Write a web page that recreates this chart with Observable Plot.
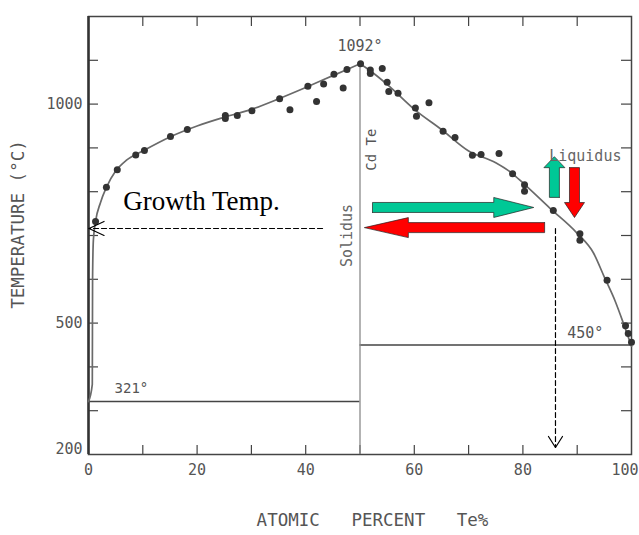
<!DOCTYPE html>
<html>
<head>
<meta charset="utf-8">
<script src="https://cdn.jsdelivr.net/npm/d3@7"></script>
<script src="https://cdn.jsdelivr.net/npm/@observablehq/plot@0.6"></script>
<style>
  html, body { margin: 0; padding: 0; background: #fff; }
  #chart svg { display: block; }
</style>
</head>
<body>
<div id="chart"></div>
<script>
// ---- data ----
const dotX = [1.3, 3.3, 5.3, 8.7, 10.3, 15.1, 18.2, 25.2, 25.2, 27.4, 30.1, 35.2, 37.1, 40.4, 42.0, 43.3, 45.2, 46.9, 47.6, 50.1,
              51.9, 51.9, 54.1, 55.0, 55.3, 57.0, 60.2, 60.4, 62.7, 65.3, 67.5, 70.7, 72.3, 75.6, 78.1, 80.3, 80.3, 85.6, 90.5, 90.5,
              95.5, 98.9, 99.4, 100.0];
const dotT = [732, 810, 850, 884, 894, 926, 942, 974, 967, 974, 985, 1012, 987, 1041, 1006, 1046, 1068, 1037, 1079, 1092,
              1078, 1070, 1081, 1050, 1029, 1025, 991, 972, 1003, 938, 924, 883, 885, 887, 841, 816, 801, 757, 704, 689,
              598, 494, 476, 456];

const leftCurveX = [0, 0.7, 0.75, 0.9, 1.3, 2.2, 3.3, 5, 7, 10, 15, 20, 25, 30, 35, 40, 45, 50];
const leftCurveT = [321, 360, 600, 690, 732, 775, 810, 847, 872, 893, 925, 950, 970, 988, 1012, 1038, 1065, 1092];
const rightCurveX = [50, 52, 55, 60, 65, 70, 75, 78, 80, 85, 90, 93, 95, 97, 98.5, 100];
const rightCurveT = [1092, 1075, 1045, 988, 942, 893, 866, 842, 820, 762, 705, 660, 605, 550, 500, 447];

const eutecticCd = 321, eutecticTe = 450, meltCdTe = 1092, cdteX = 50;
const xTickLabels = [0, 20, 40, 60, 80];
const xLastLabel = [100];
const xMinorTicks = [10, 20, 30, 40, 50, 60, 70, 80, 90];
const yTickLabels = [500, 1000];
const yBottomLabel = [200];
const yMinorTicks = [300, 400, 500, 600, 700, 800, 900, 1000, 1100];
const growthT = 716, growthX = 86.0, dashStartX = 43.1, dashEndT = 216;

// block arrows: tail -> tip in data units, widths in px
const blockArrows = [
  {x1: 52.3, y1: 764, x2: 82.0, y2: 764, half: 5, head: 10, headLen: 40, fill: "#00c896"},
  {x1: 84.0, y1: 718, x2: 50.8, y2: 718, half: 5, head: 10, headLen: 44, fill: "#ff0000"},
  {x1: 85.8, y1: 787, x2: 85.8, y2: 880, half: 5, head: 10.5, headLen: 11, fill: "#00c896"},
  {x1: 89.5, y1: 855, x2: 89.5, y2: 741, half: 5, head: 10, headLen: 15, fill: "#ff0000"}
];

// ---- layout ----
const W = 639, H = 535, mL = 88, mR = 8, mT = 16, mB = 81;
const plotW = W - mL - mR, plotH = H - mT - mB;
const xDom = [0, 100], yDom = [200, 1200];
const kx = plotW / (xDom[1] - xDom[0]);   // px per unit x
const ky = plotH / (yDom[1] - yDom[0]);   // px per degree

function arrowPolygon(a) {
  const X1 = a.x1 * kx, Y1 = -a.y1 * ky, X2 = a.x2 * kx, Y2 = -a.y2 * ky;
  const dx = X2 - X1, dy = Y2 - Y1, L = Math.hypot(dx, dy);
  const ux = dx / L, uy = dy / L, nx = -uy, ny = ux;
  const bx = X2 - ux * a.headLen, by = Y2 - uy * a.headLen;
  const pts = [
    [X1 + nx * a.half, Y1 + ny * a.half],
    [bx + nx * a.half, by + ny * a.half],
    [bx + nx * a.head, by + ny * a.head],
    [X2, Y2],
    [bx - nx * a.head, by - ny * a.head],
    [bx - nx * a.half, by - ny * a.half],
    [X1 - nx * a.half, Y1 - ny * a.half],
    [X1 + nx * a.half, Y1 + ny * a.half]
  ];
  return pts.map(([px, py]) => ({x: px / kx, y: -py / ky}));
}
function openHead(tipX, tipY, dirX, dirY, len, half) {
  const TX = tipX * kx, TY = -tipY * ky;
  const nx = -dirY, ny = dirX;
  const bx = TX - dirX * len, by = TY - dirY * len;
  return [[bx + nx * half, by + ny * half], [TX, TY], [bx - nx * half, by - ny * half]]
    .map(([px, py]) => ({x: px / kx, y: -py / ky}));
}

const dots = dotX.map((x, i) => ({x, t: dotT[i]}));
const curve = [
  ...leftCurveX.map((x, i) => ({x, t: leftCurveT[i], b: "L"})),
  ...rightCurveX.map((x, i) => ({x, t: rightCurveT[i], b: "R"}))
];

const mono = "DejaVu Sans Mono, monospace";
const grey = "#555";

const marks = [
  Plot.tickX(xMinorTicks, {x: d => d, insetTop: plotH - 9, stroke: "#444", strokeWidth: 1.2}),
  Plot.tickX(xMinorTicks, {x: d => d, insetBottom: plotH - 10, stroke: "#444", strokeWidth: 1.2}),
  Plot.tickY(yMinorTicks, {y: d => d, insetRight: plotW - 10, stroke: "#444", strokeWidth: 1.2}),
  Plot.tickY(yMinorTicks, {y: d => d, insetLeft: plotW - 10, stroke: "#444", strokeWidth: 1.2}),
  Plot.frame({stroke: "#444", strokeWidth: 1.5}),
  Plot.ruleX([0], {stroke: "#333", strokeWidth: 2.5}),
  Plot.ruleY([eutecticCd], {x1: 0, x2: cdteX, stroke: "#444", strokeWidth: 1.5}),
  Plot.ruleY([eutecticTe], {x1: cdteX, x2: 100, stroke: "#444", strokeWidth: 1.5}),
  Plot.ruleX([cdteX], {y1: 200, y2: meltCdTe, stroke: "#8a8a8a", strokeWidth: 1.3}),
  Plot.line(curve, {x: "x", y: "t", z: "b", curve: "monotone-x", stroke: "#6a6a6a", strokeWidth: 1.7}),
  Plot.dot(dots, {x: "x", y: "t", r: 3.5, fill: "#333", stroke: "none"}),
  Plot.line([{x: dashStartX, y: growthT}, {x: 0.1, y: growthT}], {x: "x", y: "y", stroke: "#000", strokeWidth: 1.2, strokeDasharray: "5,3"}),
  Plot.line(openHead(0.1, growthT, -1, 0, 15, 7), {x: "x", y: "y", stroke: "#000", strokeWidth: 1.2}),
  Plot.line([{x: growthX, y: growthT}, {x: growthX, y: dashEndT}], {x: "x", y: "y", stroke: "#000", strokeWidth: 1.2, strokeDasharray: "5,3"}),
  Plot.line(openHead(growthX, dashEndT, 0, 1, 11, 7), {x: "x", y: "y", stroke: "#000", strokeWidth: 1.2}),
  ...blockArrows.map(a => Plot.line(arrowPolygon(a), {x: "x", y: "y", fill: a.fill, stroke: "#222", strokeWidth: 0.7, curve: "linear"})),
  Plot.text(["Growth Temp."], {x: 6.4, y: growthT, dy: -27, text: d => d, textAnchor: "start", fontFamily: "Liberation Serif, Times New Roman, serif", fontSize: 27, fill: "#000"}),
  Plot.text(["Liquidus"], {x: 91.5, y: 880, text: d => d, fontFamily: mono, fontSize: 15, fill: "#666"}),
  Plot.text(["1092°"], {x: cdteX, y: meltCdTe, dy: -18, text: d => d, fontFamily: mono, fontSize: 15, fill: grey}),
  Plot.text(["321°"], {x: 7.9, y: eutecticCd, dy: -13, text: d => d, fontFamily: mono, fontSize: 14, fill: grey}),
  Plot.text(["450°"], {x: 91.5, y: eutecticTe, dy: -12, text: d => d, fontFamily: mono, fontSize: 15, fill: grey}),
  Plot.text(["Cd Te"], {x: cdteX, y: 896, dx: 12, rotate: -90, text: d => d, fontFamily: mono, fontSize: 14, fill: grey}),
  Plot.text(["Solidus"], {x: cdteX, y: 700, dx: -13, rotate: -90, text: d => d, fontFamily: mono, fontSize: 15, fill: "#666"}),
  Plot.text(xTickLabels, {x: d => d, y: 200, dy: 16, text: d => String(d), fontFamily: mono, fontSize: 15, fill: grey}),
  Plot.text(xLastLabel, {x: d => d, y: 200, dy: 16, dx: 7, textAnchor: "end", text: d => String(d), fontFamily: mono, fontSize: 15, fill: grey}),
  Plot.text(yTickLabels, {x: 0, y: d => d, dx: -6, textAnchor: "end", text: d => String(d), fontFamily: mono, fontSize: 15, fill: grey}),
  Plot.text(yBottomLabel, {x: 0, y: d => d, dx: -6, dy: -5, textAnchor: "end", text: d => String(d), fontFamily: mono, fontSize: 15, fill: grey}),
  Plot.text(["TEMPERATURE (°C)"], {x: 0, y: 725, dx: -70, rotate: -90, text: d => d, fontFamily: mono, fontSize: 17.5, fill: grey}),
  Plot.text(["ATOMIC   PERCENT   Te%"], {x: 52.3, y: 200, dy: 66, text: d => d, fontFamily: mono, fontSize: 17.5, fill: grey})
];

const chart = Plot.plot({
  width: W, height: H,
  marginLeft: mL, marginRight: mR, marginTop: mT, marginBottom: mB,
  x: {domain: xDom, axis: null},
  y: {domain: yDom, axis: null},
  style: {background: "#fff", overflow: "visible"},
  marks
});
document.getElementById("chart").appendChild(chart);
</script>
</body>
</html>
